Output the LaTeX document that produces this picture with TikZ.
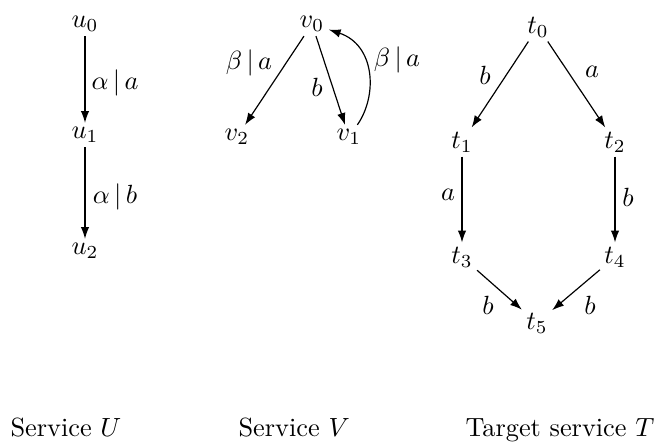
\documentclass[tikz,border=0pt]{standalone}
\usetikzlibrary{arrows.meta}
\begin{document}
\begin{tikzpicture}[x=0.38pt,y=-0.38pt,
  st/.style={inner sep=1.5pt},
  lbl/.style={inner sep=0pt},
  captext/.style={inner sep=0pt, anchor=base west},
  tr/.style={-{Latex[length=4.5pt,width=3.2pt]}, line width=0.45pt}]
\useasboundingbox (0,0) rectangle (655,442);
% Service U
\node[st] (u0) at (85,24) {$u_0$};
\node[st] (u1) at (85,135) {$u_1$};
\node[st] (u2) at (85,251) {$u_2$};
\draw[tr] (u0) -- (u1);
\draw[tr] (u1) -- (u2);
\node[lbl] (lu01) at (115,83) {$\alpha\,|\,a$};
\node[lbl] (lu12) at (115,197) {$\alpha\,|\,b$};
% Service V
\node[st] (v0) at (312,24) {$v_0$};
\node[st] (v2) at (237,137) {$v_2$};
\node[st] (v1) at (349,137) {$v_1$};
\draw[tr] (v0) -- (v2);
\draw[tr] (v0) -- (v1);
\draw[tr] (v1) .. controls (378,95) and (375,45) .. (v0);
\node[lbl] (lv02) at (249,63) {$\beta\,|\,a$};
\node[lbl] (lv01) at (317,87) {$b$};
\node[lbl] (lv10) at (397,60) {$\beta\,|\,a$};
% Target service T
\node[st] (t0) at (538,27) {$t_0$};
\node[st] (t1) at (462,142) {$t_1$};
\node[st] (t2) at (615,142) {$t_2$};
\node[st] (t3) at (462,257) {$t_3$};
\node[st] (t4) at (615,257) {$t_4$};
\node[st] (t5) at (537,323) {$t_5$};
\draw[tr] (t0) -- (t1);
\draw[tr] (t0) -- (t2);
\draw[tr] (t1) -- (t3);
\draw[tr] (t2) -- (t4);
\draw[tr] (t3) -- (t5);
\draw[tr] (t4) -- (t5);
\node[lbl] (lt01) at (485,75) {$b$};
\node[lbl] (lt02) at (592,72) {$a$};
\node[lbl] (lt13) at (448,195) {$a$};
\node[lbl] (lt24) at (628,197) {$b$};
\node[lbl] (lt35) at (488,305) {$b$};
\node[lbl] (lt45) at (590,305) {$b$};
% captions
\node[captext] (cu) at (10,437) {Service $U$};
\node[captext] (cv) at (238,437) {Service $V$};
\node[captext] (ct) at (465,437) {Target service $T$};
\end{tikzpicture}
\end{document}
